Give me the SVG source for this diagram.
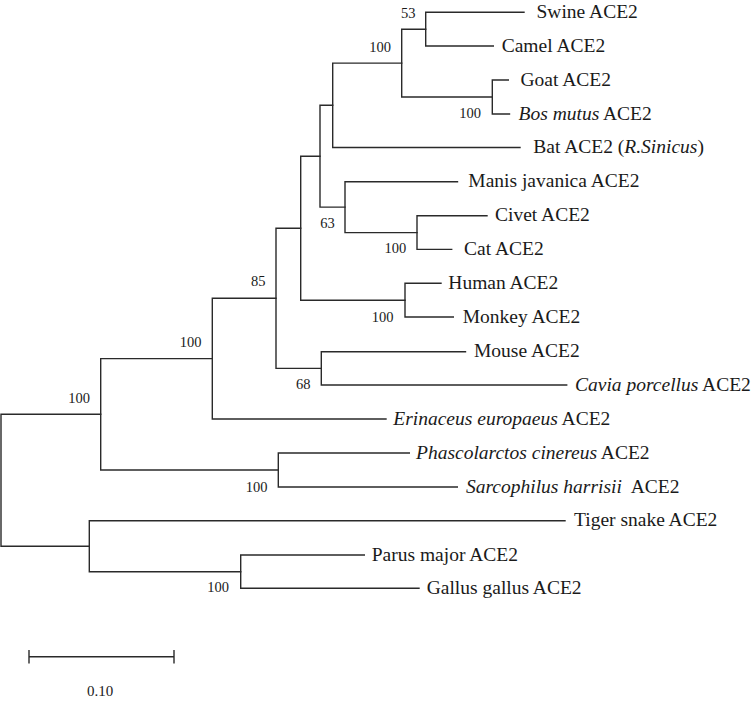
<svg xmlns="http://www.w3.org/2000/svg" width="755" height="701" viewBox="0 0 755 701">
<style>
.e{fill:none;stroke:#2a2a2a;stroke-width:1.4;stroke-linecap:square}
.leaf{font-family:"Liberation Serif","Times New Roman",serif;font-size:19.5px;fill:#1a1a1a}
.bs{font-family:"Liberation Serif","Times New Roman",serif;font-size:14.5px;fill:#1a1a1a;text-anchor:middle}
.i{font-style:italic}
</style>
<rect width="755" height="701" fill="#ffffff"/>
<g id="connectors">
<path class="e" d="M1,414.3V546.2M1,414.3H100.7M1,546.2H89.3"/>
<path class="e" d="M100.7,358.6V470M100.7,358.6H212.3M100.7,470H278.3"/>
<path class="e" d="M212.3,298.3V419M212.3,298.3H276M212.3,419H386"/>
<path class="e" d="M276,228.2V368.4M276,228.2H300.7M276,368.4H321.3"/>
<path class="e" d="M300.7,156.2V300.2M300.7,156.2H320M300.7,300.2H405"/>
<path class="e" d="M320,105.3V207.1M320,105.3H332.7M320,207.1H345"/>
<path class="e" d="M332.7,63.1V147.5M332.7,63.1H401.7M332.7,147.5H520"/>
<path class="e" d="M401.7,29.2V97M401.7,29.2H425.7M401.7,97H492.3"/>
<path class="e" d="M425.7,12.3V46M425.7,12.3H524M425.7,46H493.3"/>
<path class="e" d="M492.3,80V114M492.3,80H508.3M492.3,114H509.5"/>
<path class="e" d="M345,181.7V232.6M345,181.7H457.5M345,232.6H417"/>
<path class="e" d="M417,215.7V249.4M417,215.7H487M417,249.4H451.7"/>
<path class="e" d="M405,283.3V317M405,283.3H441M405,317H453.3"/>
<path class="e" d="M321.3,351.7V385M321.3,351.7H465.5M321.3,385H566.7"/>
<path class="e" d="M278.3,453V487M278.3,453H409.3M278.3,487H457.3"/>
<path class="e" d="M89.3,520.7V571.7M89.3,520.7H565M89.3,571.7H240.7"/>
<path class="e" d="M240.7,555V588.3M240.7,555H364.3M240.7,588.3H419"/>
</g>
<g id="bootstrap">
<text class="bs" x="408.3" y="18.3">53</text>
<text class="bs" x="380" y="51.7">100</text>
<text class="bs" x="470" y="118">100</text>
<text class="bs" x="327.5" y="228">63</text>
<text class="bs" x="395.3" y="253.3">100</text>
<text class="bs" x="382.7" y="321.5">100</text>
<text class="bs" x="258.3" y="286">85</text>
<text class="bs" x="190.7" y="347">100</text>
<text class="bs" x="303.3" y="389">68</text>
<text class="bs" x="79" y="402.5">100</text>
<text class="bs" x="256.7" y="491.5">100</text>
<text class="bs" x="218" y="592">100</text>
</g>
<g id="swine"><text class="leaf" x="536.5" y="17.8">Swine ACE2</text></g>
<g id="camel"><text class="leaf" x="501.7" y="51.5">Camel ACE2</text></g>
<g id="goat"><text class="leaf" x="520.5" y="85.5">Goat ACE2</text></g>
<g id="bos-mutus"><text class="leaf" x="518.5" y="119.5"><tspan class="i">Bos mutus</tspan> ACE2</text></g>
<g id="bat"><text class="leaf" x="533.3" y="153">Bat ACE2 (<tspan class="i">R.Sinicus</tspan>)</text></g>
<g id="manis"><text class="leaf" x="468.3" y="187.2">Manis javanica ACE2</text></g>
<g id="civet"><text class="leaf" x="495" y="221.2">Civet ACE2</text></g>
<g id="cat"><text class="leaf" x="464" y="254.9">Cat ACE2</text></g>
<g id="human"><text class="leaf" x="448.3" y="288.8">Human ACE2</text></g>
<g id="monkey"><text class="leaf" x="462.7" y="322.5">Monkey ACE2</text></g>
<g id="mouse"><text class="leaf" x="474" y="357.2">Mouse ACE2</text></g>
<g id="cavia"><text class="leaf" x="575" y="390.5"><tspan class="i">Cavia porcellus</tspan> ACE2</text></g>
<g id="erinaceus"><text class="leaf" x="393.3" y="424.5"><tspan class="i">Erinaceus europaeus</tspan> ACE2</text></g>
<g id="phascolarctos"><text class="leaf" x="416" y="458.5"><tspan class="i">Phascolarctos cinereus</tspan> ACE2</text></g>
<g id="sarcophilus"><text class="leaf" x="466" y="492.5"><tspan class="i">Sarcophilus harrisii</tspan><tspan dx="5"> ACE2</tspan></text></g>
<g id="tiger-snake"><text class="leaf" x="574" y="526.2">Tiger snake ACE2</text></g>
<g id="parus"><text class="leaf" x="371.7" y="560.5">Parus major ACE2</text></g>
<g id="gallus"><text class="leaf" x="426.7" y="593.8">Gallus gallus ACE2</text></g>
<g id="scale-bar">
<path class="e" d="M29,656.7H174M29,650.7V662.7M174,650.7V662.7"/>
<text class="bs" x="100" y="696" style="font-size:15px">0.10</text>
</g>
</svg>
